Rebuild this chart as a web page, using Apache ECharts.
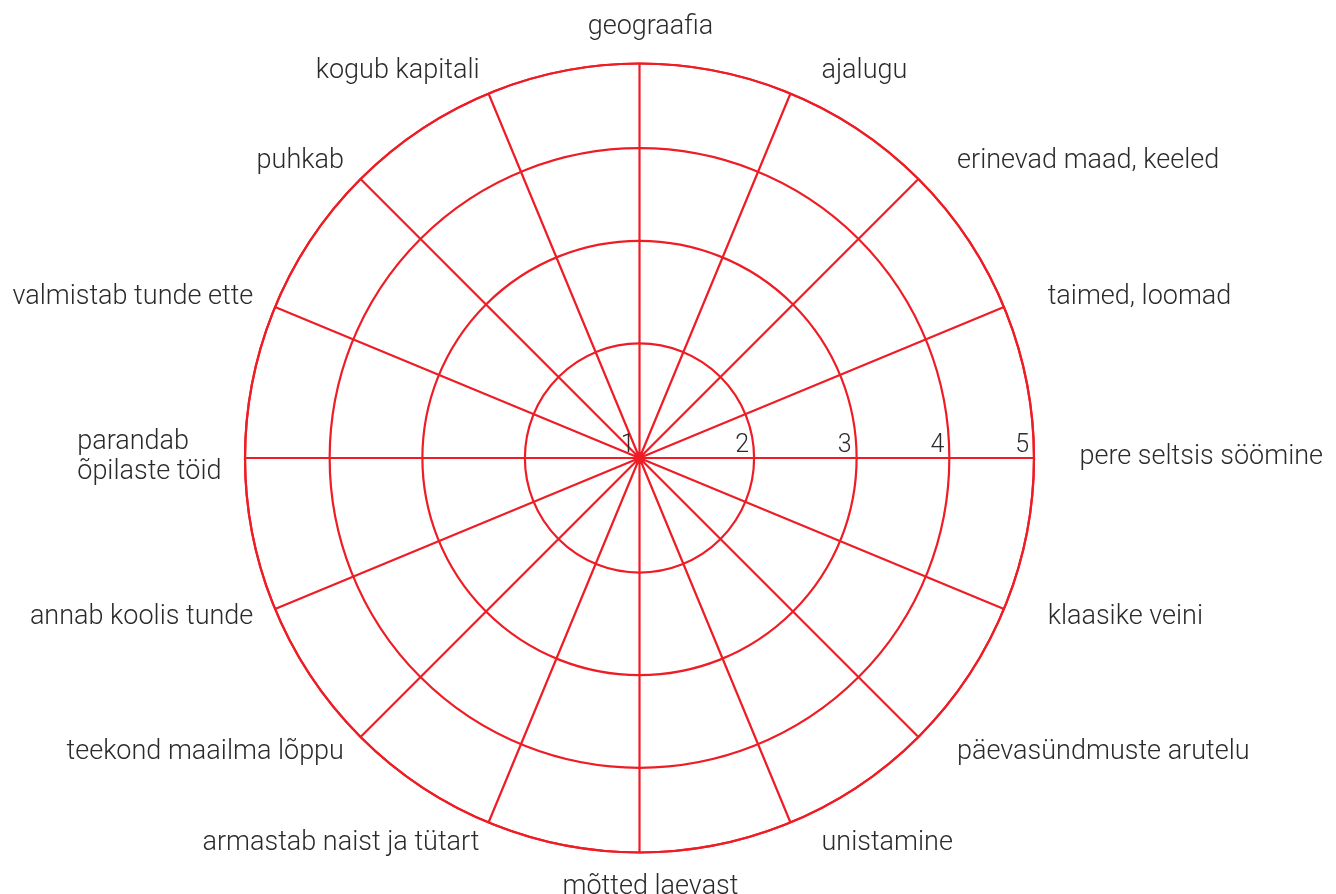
<!DOCTYPE html>
<html>
<head>
<meta charset="utf-8">
<title>Huvid</title>
<script src="https://cdn.jsdelivr.net/npm/echarts@6/dist/echarts.min.js"></script>
<style>
  html, body { margin: 0; padding: 0; background: #fff; }
  #chart-container { width: 1336px; height: 894px; }
</style>
</head>
<body>
<div id="chart-container"></div>
<script>
// spokes, read clockwise from the top one
var topics = [
  "geograafia", "ajalugu", "erinevad maad, keeled", "taimed, loomad",
  "pere seltsis söömine", "klaasike veini", "päevasündmuste arutelu", "unistamine",
  "mõtted laevast", "armastab naist ja tütart", "teekond maailma lõppu", "annab koolis tunde",
  "parandab\nõpilaste töid", "valmistab tunde ette", "puhkab", "kogub kapitali"
];

// ring values, centre = 1, rim = 5
var ringValues = [1, 2, 3, 4, 5];

var chartDom = document.getElementById("chart-container");
var myChart = echarts.init(chartDom);

var red = "#ee1d25";
var ink = "#2b2b2b";
var font = "Roboto";

// rings in the print get tighter toward the rim,
// a log radius over (value + shift) gives about the same spacing
var shift = 7;

// radar places indicators counter-clockwise, so flip everything after the top one
var radarOrder = [topics[0]].concat(topics.slice(1).reverse());

// polar starts at 3 o'clock so the ring numbers land on the right spoke
var angleOrder = topics.slice(4).concat(topics.slice(0, 4));

var ringTicks = ringValues.map(function (v) { return v + shift; });

var option = {
  animation: false,
  polar: {
    center: [639.5, 458],
    radius: 394.5
  },
  angleAxis: {
    type: "category",
    data: angleOrder,
    startAngle: 0,
    clockwise: true,
    boundaryGap: true,
    axisLine: { show: true, lineStyle: { color: red, width: 2.2 } },
    axisTick: { show: false },
    axisLabel: { show: false },
    splitLine: { show: true, lineStyle: { color: red, width: 2.2 } }
  },
  radiusAxis: {
    type: "log",
    min: ringTicks[0],
    max: ringTicks[ringTicks.length - 1],
    axisLine: { show: false },
    axisTick: { show: false, customValues: ringTicks },
    axisLabel: {
      customValues: ringTicks,
      formatter: function (v) { return String(Math.round(v - shift)); },
      align: "right",
      verticalAlign: "middle",
      margin: 12,
      padding: [0, 5, 0, 0],
      color: ink,
      fontSize: 25,
      fontFamily: font,
      fontWeight: 300
    },
    splitLine: { show: true, lineStyle: { color: red, width: 2.2 } }
  },
  // the radar only carries the spoke names, the grid comes from the polar axes
  radar: {
    center: [639.5, 457],
    radius: 394.5,
    shape: "circle",
    startAngle: 90,
    indicator: radarOrder.map(function (name) {
      return { name: name, min: ringValues[0], max: ringValues[ringValues.length - 1] };
    }),
    axisNameGap: 23.5,
    axisName: {
      color: ink,
      fontSize: 27,
      fontFamily: font,
      fontWeight: 300,
      lineHeight: 24,
      padding: [0, 0, 0, 22],
      formatter: function (name) {
        if (name.indexOf("\n") < 0) return name;
        // two-line name: lines flush left like in the print
        return name.split("\n").map(function (line) {
          return "{two|" + line + "}";
        }).join("\n");
      },
      rich: {
        two: {
          align: "left",
          lineHeight: 30,
          color: ink,
          fontSize: 27,
          fontFamily: font,
          fontWeight: 300
        }
      }
    },
    axisLine: { show: false },
    splitLine: { show: false },
    splitArea: { show: false }
  }
};

myChart.setOption(option);
</script>
</body>
</html>
